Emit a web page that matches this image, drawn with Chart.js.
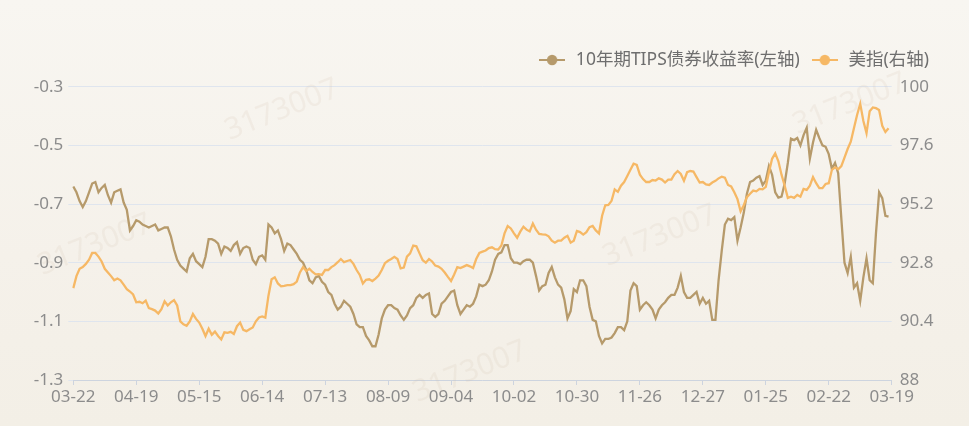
<!DOCTYPE html>
<html>
<head>
<meta charset="utf-8">
<script src="https://cdn.jsdelivr.net/npm/chart.js@4.4.1/dist/chart.umd.min.js"></script>
<style>
  html, body { margin: 0; padding: 0; }
  body { width: 969px; height: 426px; overflow: hidden;
         background: linear-gradient(to bottom, #f8f6f1 0%, #f5f1ea 60%, #f3efe6 100%); }
  canvas { display: block; }
</style>
</head>
<body>
<canvas id="c" width="969" height="426"></canvas>
<script>
// ---- data ----
const tickLabels = ['03-22','04-19','05-15','06-14','07-13','08-09','09-04','10-02','10-30','11-26','12-27','01-25','02-22','03-19'];
const pointsPerTick = 20;

const tipsYield = [
  -0.64,-0.66,-0.69,-0.71,-0.69,-0.66,-0.63,-0.625,-0.66,-0.645,
  -0.635,-0.67,-0.695,-0.66,-0.655,-0.65,-0.695,-0.72,-0.79,-0.775,
  -0.755,-0.76,-0.77,-0.775,-0.78,-0.775,-0.77,-0.79,-0.785,-0.78,
  -0.78,-0.81,-0.855,-0.89,-0.91,-0.92,-0.93,-0.885,-0.87,-0.895,
  -0.905,-0.915,-0.88,-0.82,-0.82,-0.825,-0.835,-0.87,-0.845,-0.85,
  -0.86,-0.84,-0.83,-0.87,-0.85,-0.845,-0.85,-0.89,-0.905,-0.88,
  -0.875,-0.89,-0.77,-0.78,-0.80,-0.79,-0.82,-0.86,-0.835,-0.84,
  -0.855,-0.87,-0.89,-0.90,-0.925,-0.96,-0.97,-0.95,-0.945,-0.965,
  -0.975,-1.00,-1.01,-1.04,-1.06,-1.05,-1.03,-1.04,-1.05,-1.075,
  -1.11,-1.12,-1.12,-1.15,-1.165,-1.185,-1.185,-1.145,-1.09,-1.06,
  -1.045,-1.045,-1.055,-1.06,-1.08,-1.095,-1.08,-1.055,-1.045,-1.02,
  -1.01,-1.02,-1.01,-1.005,-1.075,-1.085,-1.075,-1.04,-1.03,-1.015,
  -1.00,-0.995,-1.045,-1.075,-1.06,-1.045,-1.05,-1.04,-1.015,-0.975,
  -0.98,-0.975,-0.96,-0.93,-0.89,-0.87,-0.865,-0.84,-0.84,-0.885,
  -0.90,-0.90,-0.905,-0.895,-0.89,-0.89,-0.90,-0.945,-0.995,-0.98,
  -0.975,-0.935,-0.915,-0.95,-0.975,-0.985,-1.025,-1.09,-1.065,-0.99,
  -1.00,-0.96,-0.96,-0.98,-1.05,-1.095,-1.10,-1.15,-1.175,-1.16,
  -1.16,-1.155,-1.14,-1.12,-1.12,-1.13,-1.10,-0.995,-0.97,-0.98,
  -1.06,-1.045,-1.035,-1.045,-1.06,-1.09,-1.06,-1.045,-1.035,-1.02,
  -1.01,-1.01,-0.985,-0.945,-1.00,-1.02,-1.02,-1.01,-1.00,-1.04,
  -1.02,-1.04,-1.03,-1.095,-1.095,-0.96,-0.86,-0.77,-0.75,-0.755,
  -0.745,-0.825,-0.78,-0.73,-0.665,-0.625,-0.62,-0.61,-0.605,-0.635,
  -0.62,-0.57,-0.60,-0.66,-0.678,-0.675,-0.63,-0.56,-0.477,-0.482,
  -0.475,-0.50,-0.465,-0.44,-0.545,-0.49,-0.447,-0.475,-0.50,-0.505,
  -0.53,-0.58,-0.56,-0.595,-0.75,-0.90,-0.935,-0.88,-0.985,-0.97,
  -1.03,-0.95,-0.885,-0.96,-0.97,-0.80,-0.66,-0.68,-0.74,-0.743
];

const dollarIndex = [
  91.76,92.25,92.55,92.62,92.75,92.92,93.2,93.2,93.05,92.85,
  92.55,92.4,92.25,92.08,92.15,92.08,91.9,91.72,91.62,91.5,
  91.18,91.2,91.14,91.25,90.94,90.9,90.84,90.72,90.9,91.22,
  91.05,91.18,91.27,91.05,90.4,90.28,90.22,90.4,90.7,90.5,
  90.35,90.1,89.8,90.1,89.85,89.98,89.8,89.66,89.95,89.93,
  89.97,89.88,90.2,90.35,90.05,90.0,90.08,90.15,90.4,90.56,
  90.6,90.55,91.45,92.12,92.2,91.95,91.83,91.85,91.88,91.88,
  91.92,92.03,92.4,92.62,92.46,92.55,92.42,92.32,92.33,92.3,
  92.5,92.5,92.62,92.7,92.82,92.95,92.82,92.87,92.91,92.75,
  92.5,92.3,91.95,92.1,92.12,92.05,92.15,92.27,92.5,92.78,
  92.88,92.95,93.04,92.95,92.57,92.6,93.05,93.18,93.5,93.47,
  93.18,92.9,92.8,92.95,92.85,92.68,92.64,92.55,92.4,92.22,
  92.05,92.32,92.62,92.58,92.64,92.7,92.65,92.58,92.95,93.2,
  93.25,93.3,93.4,93.43,93.35,93.34,93.5,94.0,94.3,94.2,
  94.0,93.82,94.07,94.27,94.15,94.08,94.4,94.15,93.98,93.96,
  93.95,93.88,93.7,93.62,93.7,93.7,93.82,93.9,93.62,93.7,
  94.1,94.05,93.95,94.05,94.25,94.3,94.12,94.0,94.72,95.15,
  95.16,95.33,95.8,95.7,95.95,96.1,96.35,96.6,96.85,96.8,
  96.4,96.22,96.1,96.1,96.18,96.16,96.25,96.2,96.08,96.2,
  96.2,96.42,96.55,96.43,96.15,96.5,96.55,96.53,96.3,96.08,
  96.1,96.0,95.98,96.08,96.15,96.25,96.32,96.28,95.98,95.92,
  95.68,95.4,94.9,95.15,95.48,95.62,95.75,95.72,95.82,95.8,
  95.9,96.5,97.05,97.27,96.95,96.4,95.95,95.45,95.5,95.45,
  95.57,95.5,95.82,95.78,95.95,96.3,96.05,95.85,95.85,96.02,
  96.05,96.6,96.7,96.62,96.75,97.1,97.45,97.75,98.3,98.84,
  99.3,98.6,98.1,99.0,99.15,99.12,99.05,98.4,98.15,98.3
];

const seriesNames = ['10年期TIPS债券收益率(左轴)', '美指(右轴)'];
const leftTicks  = { min: -1.3, max: -0.3, step: 0.2 };
const rightTicks = { min: 88, max: 100, step: 2.4 };

// ---- category axis: one slot per observation, dates shown every 20 points ----
const nSlots = (tickLabels.length - 1) * pointsPerTick + 1;
const categories = [];
for (let i = 0; i < nSlots; i++) categories.push(i % pointsPerTick === 0 ? tickLabels[i / pointsPerTick] : '');

// ---- styles ----
const BROWN = '#b69a6b';
const ORANGE = '#f6b865';
const GRID = '#dfe5ee';
const TICK_COLOR = '#8c8c8c';
const FONT = "'Noto Sans', 'Noto Sans CJK SC', sans-serif";

function makeMarker(color) {
  const c = document.createElement('canvas');
  c.width = 26; c.height = 14;
  const g = c.getContext('2d');
  g.strokeStyle = color; g.lineWidth = 2;
  g.beginPath(); g.moveTo(0, 7); g.lineTo(26, 7); g.stroke();
  g.fillStyle = color;
  g.beginPath(); g.arc(13, 7, 5.2, 0, Math.PI * 2); g.fill();
  return c;
}
const markers = [makeMarker(BROWN), makeMarker(ORANGE)];

const legendFit = {
  id: 'legendFit',
  beforeInit(chart) {
    const orig = chart.legend.fit;
    chart.legend.fit = function () { orig.call(this); this.height = 45.5; };
  }
};

const watermark = {
  id: 'watermark',
  beforeDatasetsDraw(chart) {
    const ctx = chart.ctx;
    const spots = [[282, 110], [95, 245], [660, 236], [850, 104], [470, 372]];
    ctx.save();
    ctx.font = "30px 'Noto Sans', sans-serif";
    ctx.fillStyle = 'rgba(205,190,165,0.15)';
    ctx.textAlign = 'center'; ctx.textBaseline = 'middle';
    for (const [x, y] of spots) {
      ctx.save(); ctx.translate(x, y); ctx.rotate(-0.38);
      ctx.fillText('3173007', 0, 0);
      ctx.restore();
    }
    ctx.restore();
  }
};

new Chart(document.getElementById('c'), {
  type: 'line',
  data: {
    labels: categories,
    datasets: [
      { label: seriesNames[0], data: tipsYield, yAxisID: 'y', borderColor: BROWN, backgroundColor: BROWN,
        borderWidth: 2.3, pointRadius: 0, tension: 0, order: 1 },
      { label: seriesNames[1], data: dollarIndex, yAxisID: 'y2', borderColor: ORANGE, backgroundColor: ORANGE,
        borderWidth: 2.3, pointRadius: 0, tension: 0, order: 0 }
    ]
  },
  options: {
    responsive: false,
    animation: false,
    layout: { padding: { top: 41.2, right: 30, left: 0, bottom: 0 } },
    plugins: {
      tooltip: { enabled: false },
      legend: {
        position: 'top', align: 'end',
        labels: {
          usePointStyle: true, pointStyleWidth: 30, boxHeight: 18,
          padding: 10, color: '#6e6e6e',
          font: { family: FONT, size: 17.5 },
          sort: (a, b) => a.datasetIndex - b.datasetIndex,
          generateLabels(chart) {
            const items = Chart.defaults.plugins.legend.labels.generateLabels(chart);
            items.forEach(it => { it.pointStyle = markers[it.datasetIndex]; });
            return items;
          }
        }
      }
    },
    scales: {
      x: {
        type: 'category',
        offset: false,
        grid: { drawOnChartArea: false, drawTicks: true, tickLength: 5,
                color: c => (c.index % pointsPerTick === 0 ? '#cdd4df' : 'rgba(0,0,0,0)') },
        border: { display: true, color: '#cdd4df' },
        ticks: { autoSkip: false, maxRotation: 0, minRotation: 0, padding: 2,
                 color: TICK_COLOR, font: { family: FONT, size: 17 } },
        afterFit: s => { s.height = 46; }
      },
      y: {
        position: 'left',
        min: leftTicks.min, max: leftTicks.max,
        ticks: { stepSize: leftTicks.step, padding: 5, color: TICK_COLOR,
                 font: { family: FONT, size: 17 }, callback: v => Number(v).toFixed(1) },
        grid: { color: GRID, drawTicks: true, tickLength: 5 },
        border: { display: false },
        afterFit: s => { s.width = 73.3; }
      },
      y2: {
        position: 'right',
        min: rightTicks.min, max: rightTicks.max,
        ticks: { stepSize: rightTicks.step, padding: 8, color: TICK_COLOR,
                 font: { family: FONT, size: 17 }, callback: v => String(Number(Number(v).toFixed(1))) },
        grid: { drawOnChartArea: false, drawTicks: false },
        border: { display: false },
        afterFit: s => { s.width = 47.3; }
      }
    }
  },
  plugins: [legendFit, watermark]
});
</script>
</body>
</html>
